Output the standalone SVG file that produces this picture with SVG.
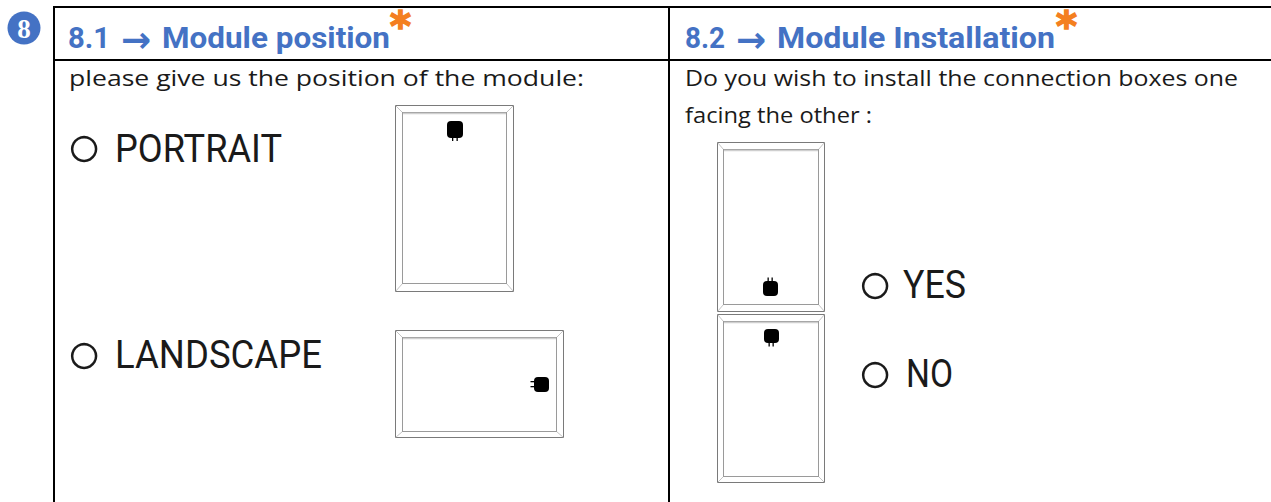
<svg xmlns="http://www.w3.org/2000/svg" width="1271" height="502" viewBox="0 0 1271 502">
<style>
.grid{stroke:#000;stroke-width:2;fill:none}
.hdr{font-family:Roboto,"Liberation Sans",sans-serif;font-weight:bold;font-size:29px;fill:#4472C4}
.arr{font-family:"DejaVu Sans",sans-serif;font-weight:bold;font-size:36px}
.ast{font-family:"DejaVu Sans","Liberation Sans",sans-serif;font-weight:bold;font-size:40px;fill:#F47F20;stroke:#F47F20;stroke-width:1.6}
.body{font-family:"Open Sans",Roboto,"Liberation Sans",sans-serif;font-size:21px;fill:#1a1a1a}
.opt{font-family:Roboto,"Liberation Sans",sans-serif;font-size:38px;fill:#1a1a1a}
.circ{font-family:"Liberation Sans",sans-serif;font-size:60px}
.fo{fill:#fff;stroke:#7a7a7a;stroke-width:1}
.fi{fill:#fff;stroke:#9a9a9a;stroke-width:1}
.fd{stroke:#c4c4c4;stroke-width:1}
.hl{stroke:#cfcfcf;stroke-width:1.5}
.jb{fill:#000}
</style>
<rect width="1271" height="502" fill="#fff"/>
<g id="table">
<line class="grid" x1="53" y1="7" x2="1271" y2="7"/>
<line class="grid" x1="53" y1="60" x2="1271" y2="60"/>
<line class="grid" x1="54" y1="6" x2="54" y2="502"/>
<line class="grid" x1="669" y1="6" x2="669" y2="502"/>
</g>
<g id="badge">
<circle cx="24" cy="28" r="16.5" fill="#4472C4"/>
<text x="24" y="37.5" text-anchor="middle" font-family="'Liberation Serif',serif" font-weight="bold" font-size="27" fill="#fff">8</text>
</g>
<g id="header-8-1">
<text class="hdr" y="48"><tspan x="68" textLength="42" lengthAdjust="spacingAndGlyphs">8.1</tspan><tspan class="arr" x="121" y="52">→</tspan><tspan x="162" y="48" textLength="228" lengthAdjust="spacingAndGlyphs">Module position</tspan></text>
<text class="ast" x="390" y="40">*</text>
</g>
<g id="header-8-2">
<text class="hdr" y="48"><tspan x="685" textLength="40" lengthAdjust="spacingAndGlyphs">8.2</tspan><tspan class="arr" x="736" y="52">→</tspan><tspan x="777" y="48" textLength="278" lengthAdjust="spacingAndGlyphs">Module Installation</tspan></text>
<text class="ast" x="1056" y="40">*</text>
</g>
<g id="question-8-1">
<text class="body" x="69" y="86" textLength="515" lengthAdjust="spacingAndGlyphs">please give us the position of the module:</text>
</g>
<g id="question-8-2">
<text class="body" x="685" y="86" textLength="553" lengthAdjust="spacingAndGlyphs">Do you wish to install the connection boxes one</text>
<text class="body" x="685" y="123" textLength="187" lengthAdjust="spacingAndGlyphs">facing the other :</text>
</g>
<g id="opt-portrait">
<text class="opt" y="162"><tspan class="circ" x="66" y="167">○</tspan><tspan x="115" y="162" textLength="167" lengthAdjust="spacingAndGlyphs">PORTRAIT</tspan></text>
</g>
<g id="opt-landscape">
<text class="opt" y="368"><tspan class="circ" x="66" y="374">○</tspan><tspan x="115" y="368" textLength="207" lengthAdjust="spacingAndGlyphs">LANDSCAPE</tspan></text>
</g>
<g id="opt-yes">
<text class="opt" y="298"><tspan class="circ" x="857" y="304">○</tspan><tspan x="903" y="298" textLength="63" lengthAdjust="spacingAndGlyphs">YES</tspan></text>
</g>
<g id="opt-no">
<text class="opt" y="387"><tspan class="circ" x="857" y="393">○</tspan><tspan x="906" y="387" textLength="47" lengthAdjust="spacingAndGlyphs">NO</tspan></text>
</g>
<g id="module-portrait">
<rect class="fo" x="395.5" y="105.5" width="118" height="186"/>
<line class="fd" x1="395.5" y1="105.5" x2="402.5" y2="112.5"/>
<line class="fd" x1="513.5" y1="105.5" x2="506.5" y2="112.5"/>
<line class="fd" x1="395.5" y1="291.5" x2="402.5" y2="283.5"/>
<line class="fd" x1="513.5" y1="291.5" x2="506.5" y2="283.5"/>
<rect class="fi" x="402.5" y="112.5" width="104" height="171"/>
<line class="hl" x1="403" y1="113.5" x2="506" y2="113.5"/>
<rect class="jb" x="447" y="121" width="16" height="17" rx="4"/>
<rect class="jb" x="452" y="137" width="1.3" height="4"/>
<rect class="jb" x="456.5" y="137" width="1.3" height="4"/>
</g>
<g id="module-landscape">
<rect class="fo" x="395.5" y="330.5" width="168" height="107"/>
<line class="fd" x1="395.5" y1="330.5" x2="402.5" y2="337.5"/>
<line class="fd" x1="563.5" y1="330.5" x2="556.5" y2="337.5"/>
<line class="fd" x1="395.5" y1="437.5" x2="402.5" y2="431.5"/>
<line class="fd" x1="563.5" y1="437.5" x2="556.5" y2="431.5"/>
<rect class="fi" x="402.5" y="337.5" width="154" height="94"/>
<line class="hl" x1="403" y1="338.5" x2="556" y2="338.5"/>
<rect class="jb" x="534" y="377" width="15" height="15" rx="4"/>
<rect class="jb" x="530.5" y="381" width="4" height="1.3"/>
<rect class="jb" x="530.5" y="386" width="4" height="1.3"/>
</g>
<g id="module-top">
<rect class="fo" x="717.5" y="142.5" width="107" height="169"/>
<line class="fd" x1="717.5" y1="142.5" x2="723.5" y2="149.5"/>
<line class="fd" x1="824.5" y1="142.5" x2="818.5" y2="149.5"/>
<line class="fd" x1="717.5" y1="311.5" x2="723.5" y2="304.5"/>
<line class="fd" x1="824.5" y1="311.5" x2="818.5" y2="304.5"/>
<rect class="fi" x="723.5" y="149.5" width="95" height="155"/>
<line class="hl" x1="724" y1="150.5" x2="818" y2="150.5"/>
<rect class="jb" x="763" y="281" width="15" height="15" rx="4"/>
<rect class="jb" x="767.5" y="277.5" width="1.3" height="4"/>
<rect class="jb" x="771.5" y="277.5" width="1.3" height="4"/>
</g>
<g id="module-bottom">
<rect class="fo" x="717.5" y="314.5" width="107" height="168"/>
<line class="fd" x1="717.5" y1="314.5" x2="723.5" y2="321.5"/>
<line class="fd" x1="824.5" y1="314.5" x2="818.5" y2="321.5"/>
<line class="fd" x1="717.5" y1="482.5" x2="723.5" y2="476.5"/>
<line class="fd" x1="824.5" y1="482.5" x2="818.5" y2="476.5"/>
<rect class="fi" x="723.5" y="321.5" width="95" height="155"/>
<line class="hl" x1="724" y1="322.5" x2="818" y2="322.5"/>
<rect class="jb" x="764" y="329" width="15" height="14" rx="4"/>
<rect class="jb" x="768.5" y="342" width="1.3" height="4.5"/>
<rect class="jb" x="772.5" y="342" width="1.3" height="4.5"/>
</g>
<g id="connectors"/>
</svg>
